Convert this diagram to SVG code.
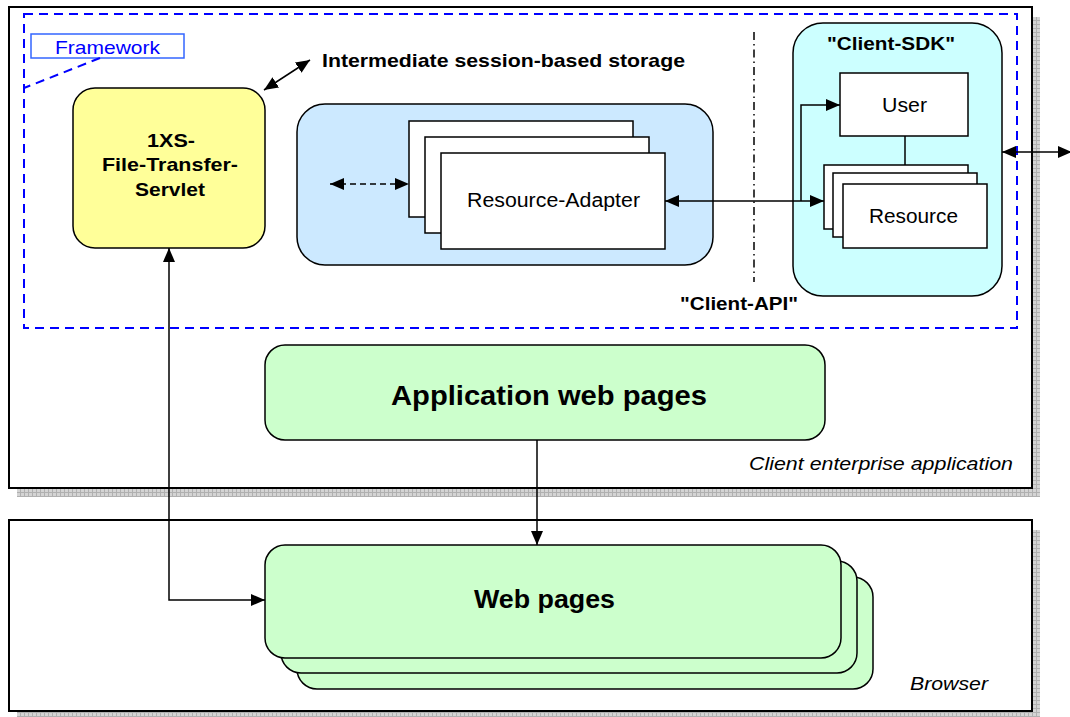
<svg xmlns="http://www.w3.org/2000/svg" width="1070" height="717" viewBox="0 0 1070 717">
<defs>
<pattern id="hatch" width="4" height="4" patternUnits="userSpaceOnUse">
<rect width="4" height="4" fill="#d4d4d4"/>
<path d="M0,0.5 H4 M0.5,0 V4" stroke="#b0b0b0" stroke-width="1"/>
</pattern>
<marker id="ah" viewBox="0 0 14 12" refX="14" refY="6" markerWidth="14" markerHeight="12" markerUnits="userSpaceOnUse" orient="auto-start-reverse">
<path d="M0,0 L14,6 L0,12 z" fill="#000"/>
</marker>
<style>
.box{fill:#fff;stroke:#000;stroke-width:2}
.shadow{fill:url(#hatch)}
.line{fill:none;stroke:#000;stroke-width:1.5}
.sheet{fill:#fff;stroke:#000;stroke-width:1.5}
.t{font-family:"Liberation Sans",Arial,sans-serif;fill:#000}
.b{font-weight:bold}
.i{font-style:italic}
</style>
</defs>

<g id="client-enterprise-application">
<rect class="shadow" x="1032" y="17" width="8" height="480"/>
<rect class="shadow" x="17" y="488" width="1023" height="9"/>
<rect class="box" x="9" y="7" width="1023" height="481"/>
<text class="t i" x="749" y="470" font-size="18" textLength="264" lengthAdjust="spacingAndGlyphs">Client enterprise application</text>
</g>

<g id="browser">
<rect class="shadow" x="1032" y="530" width="8" height="187"/>
<rect class="shadow" x="17" y="711" width="1023" height="6"/>
<rect class="box" x="9" y="520" width="1023" height="191"/>
<text class="t i" x="910" y="690" font-size="18" textLength="78" lengthAdjust="spacingAndGlyphs">Browser</text>
</g>

<g id="framework">
<rect x="24" y="14" width="993" height="314" fill="none" stroke="#0000ff" stroke-width="2" stroke-dasharray="9,6"/>
<rect x="31" y="34" width="153" height="24" fill="#fff" stroke="#3366ff" stroke-width="1.5"/>
<text class="t" x="55" y="54" font-size="19" textLength="105" lengthAdjust="spacingAndGlyphs" style="fill:#0000ff">Framework</text>
<line x1="100" y1="58" x2="24" y2="88" stroke="#0000ff" stroke-width="2" stroke-dasharray="9,6"/>
</g>

<g id="storage-label">
<text class="t b" x="322" y="67" font-size="19" textLength="363" lengthAdjust="spacingAndGlyphs">Intermediate session-based storage</text>
</g>

<g id="servlet">
<rect x="73" y="88" width="192" height="160" rx="22" fill="#ffff99" stroke="#000" stroke-width="1.5"/>
<text class="t b" x="147" y="147" font-size="19" textLength="48" lengthAdjust="spacingAndGlyphs">1XS-</text>
<text class="t b" x="102" y="171" font-size="19" textLength="136" lengthAdjust="spacingAndGlyphs">File-Transfer-</text>
<text class="t b" x="135" y="196" font-size="19" textLength="70" lengthAdjust="spacingAndGlyphs">Servlet</text>
</g>

<g id="adapter-container">
<rect x="297" y="104" width="416" height="161" rx="28" fill="#cce9ff" stroke="#000" stroke-width="1.5"/>
</g>

<g id="resource-adapter">
<rect class="sheet" x="409" y="121" width="224" height="96"/>
<rect class="sheet" x="425" y="137" width="224" height="96"/>
<rect class="sheet" x="441" y="153" width="224" height="96"/>
<text class="t" x="467" y="207" font-size="20" textLength="173" lengthAdjust="spacingAndGlyphs">Resource-Adapter</text>
</g>

<g id="client-api">
<line x1="754" y1="32" x2="754" y2="282" stroke="#000" stroke-width="1.5" stroke-dasharray="8,4,1.5,4"/>
<text class="t b" x="680" y="310" font-size="19" textLength="118" lengthAdjust="spacingAndGlyphs">"Client-API"</text>
</g>

<g id="client-sdk">
<rect x="793" y="23" width="209" height="273" rx="30" fill="#ccffff" stroke="#000" stroke-width="1.5"/>
<text class="t b" x="827" y="50" font-size="19" textLength="128" lengthAdjust="spacingAndGlyphs">"Client-SDK"</text>
</g>

<g id="user">
<rect class="sheet" x="840" y="73" width="128" height="63"/>
<text class="t" x="882" y="112" font-size="20" textLength="45" lengthAdjust="spacingAndGlyphs">User</text>
</g>

<g id="resource">
<rect class="sheet" x="824" y="165" width="144" height="64"/>
<rect class="sheet" x="833" y="173" width="144" height="64"/>
<rect class="sheet" x="843" y="184" width="144" height="64"/>
<text class="t" x="869" y="223" font-size="20" textLength="89" lengthAdjust="spacingAndGlyphs">Resource</text>
</g>

<g id="app-web-pages">
<rect x="265" y="345" width="560" height="95" rx="20" fill="#ccffcc" stroke="#000" stroke-width="1.5"/>
<text class="t b" x="391" y="405" font-size="27" textLength="316" lengthAdjust="spacingAndGlyphs">Application web pages</text>
</g>

<g id="web-pages">
<rect x="297" y="577" width="576" height="112" rx="20" fill="#ccffcc" stroke="#000" stroke-width="1.5"/>
<rect x="281" y="561" width="576" height="112" rx="20" fill="#ccffcc" stroke="#000" stroke-width="1.5"/>
<rect x="265" y="545" width="576" height="113" rx="20" fill="#ccffcc" stroke="#000" stroke-width="1.5"/>
<text class="t b" x="474" y="608" font-size="25" textLength="141" lengthAdjust="spacingAndGlyphs">Web pages</text>
</g>

<g id="connectors">
<line class="line" x1="264" y1="90" x2="310" y2="60" marker-start="url(#ah)" marker-end="url(#ah)"/>
<line class="line" x1="330" y1="184" x2="409" y2="184" stroke-dasharray="6,4" marker-start="url(#ah)" marker-end="url(#ah)"/>
<line class="line" x1="665" y1="201" x2="824" y2="201" marker-start="url(#ah)" marker-end="url(#ah)"/>
<polyline class="line" points="801,201 801,105 840,105" marker-end="url(#ah)"/>
<line class="line" x1="905" y1="136" x2="905" y2="165"/>
<line class="line" x1="1002" y1="152" x2="1072" y2="152" marker-start="url(#ah)" marker-end="url(#ah)"/>
<polyline class="line" points="265,600 169,600 169,248" marker-start="url(#ah)" marker-end="url(#ah)"/>
<line class="line" x1="537" y1="440" x2="537" y2="545" marker-end="url(#ah)"/>
</g>
</svg>
